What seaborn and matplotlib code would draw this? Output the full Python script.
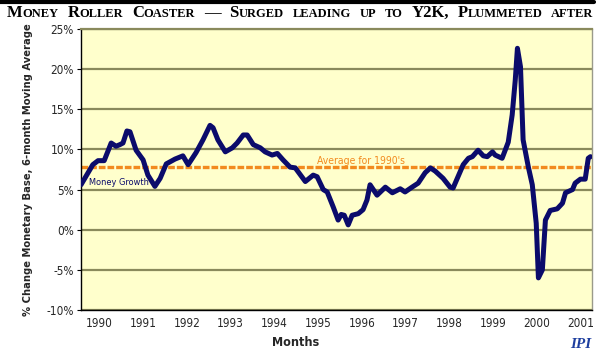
"""Money Roller Coaster: 6-month moving average of monetary base growth, 1990-2001."""
import numpy as np
import pandas as pd
import matplotlib
matplotlib.use("Agg")
import matplotlib.pyplot as plt
from matplotlib import font_manager
import seaborn as sns
from matplotlib.lines import Line2D

# decimal year of each point
dates = [1990.00, 1990.27, 1990.39, 1990.53, 1990.69, 1990.80, 1990.89, 1990.96,
         1991.05, 1991.12, 1991.26, 1991.42, 1991.53, 1991.69, 1991.81, 1991.95,
         1992.15, 1992.33, 1992.45, 1992.63, 1992.79, 1992.95, 1993.02, 1993.13,
         1993.30, 1993.46, 1993.57, 1993.71, 1993.80, 1993.94, 1994.10, 1994.21,
         1994.37, 1994.49, 1994.62, 1994.78, 1994.90, 1995.13, 1995.31, 1995.40,
         1995.54, 1995.63, 1995.77, 1995.88, 1995.95, 1996.02, 1996.11, 1996.20,
         1996.34, 1996.45, 1996.54, 1996.61, 1996.77, 1996.96, 1997.12, 1997.30,
         1997.41, 1997.57, 1997.71, 1997.87, 1997.99, 1998.10, 1998.28, 1998.44,
         1998.51, 1998.74, 1998.86, 1998.95, 1999.08, 1999.20, 1999.29, 1999.41,
         1999.47, 1999.63, 1999.77, 1999.86, 1999.93, 1999.98, 2000.05, 2000.11,
         2000.23, 2000.32, 2000.41, 2000.46, 2000.55, 2000.62, 2000.73, 2000.89,
         2001.01, 2001.08, 2001.24, 2001.30, 2001.42, 2001.53, 2001.60, 2001.65]
# % change monetary base, 6-month moving average
growth = [5.6, 8.1, 8.6, 8.6, 10.8, 10.4, 10.6, 10.8,
          12.3, 12.2, 9.9, 8.7, 6.8, 5.4, 6.4, 8.2,
          8.8, 9.2, 8.1, 9.6, 11.2, 13.0, 12.7, 11.2,
          9.7, 10.2, 10.8, 11.8, 11.8, 10.6, 10.2, 9.7,
          9.3, 9.5, 8.7, 7.8, 7.7, 6.0, 6.8, 6.6,
          5.0, 4.7, 2.8, 1.2, 1.9, 1.8, 0.6, 1.8,
          2.0, 2.5, 3.7, 5.6, 4.3, 5.3, 4.6, 5.1,
          4.7, 5.3, 5.8, 7.1, 7.7, 7.3, 6.4, 5.3,
          5.2, 8.1, 8.9, 9.1, 9.9, 9.2, 9.1, 9.7,
          9.3, 8.9, 10.9, 14.3, 18.6, 22.6, 20.3, 11.2,
          7.8, 5.6, 0.8, -6.0, -5.0, 1.2, 2.4, 2.6,
          3.3, 4.6, 5.0, 5.8, 6.3, 6.3, 8.9, 9.1]
average_1990s = 7.8
years = list(range(1990, 2002))
y_ticks = [-10, -5, 0, 5, 10, 15, 20, 25]

NAVY = "#0b0b6b"
ORANGE = "#f28a1e"
GRID = "#8a8a5c"
PANEL = "#ffffcc"
SERIF = ["Liberation Serif", "DejaVu Serif"]


def _narrow_font():
    # pick a condensed sans face if one is installed, else the narrowest plain one
    faces = font_manager.fontManager.ttflist
    names = {f.name for f in faces}
    if "Liberation Sans Narrow" in names:
        return ["Liberation Sans Narrow"], "normal"
    if any(f.name == "DejaVu Sans" and f.stretch == "condensed" for f in faces):
        return ["DejaVu Sans"], "condensed"
    return ["Liberation Sans", "DejaVu Sans"], "normal"


def _small_caps_title(fig, x, y, words, big, small, gap):
    # matplotlib has no small caps, so place big and small pieces one after another
    renderer = fig.canvas.get_renderer()
    width = fig.bbox.width
    for head, rest in words:
        for text, size in ((head, big), (rest, small)):
            if not text:
                continue
            t = fig.text(x, y, text, fontsize=size, family=SERIF, fontweight="bold",
                         va="baseline", ha="left", color="black")
            x = t.get_window_extent(renderer).x1 / width
        x += gap


def plot():
    sns.set_theme(style="white")
    family, stretch = _narrow_font()
    plt.rcParams["font.family"] = family
    plt.rcParams["font.stretch"] = stretch

    data = pd.DataFrame({"date": dates, "growth": growth})

    fig = plt.figure(figsize=(6.0, 3.57), dpi=100)
    ax = fig.add_axes([0.135, 0.1317, 0.852, 0.787])
    ax.set_facecolor(PANEL)

    for tick in y_ticks:
        ax.axhline(tick, color=GRID, lw=1.6, zorder=1)
    ax.axhline(average_1990s, color=ORANGE, lw=2.4, ls=(0, (2, 0.6)), zorder=2)

    sns.lineplot(data=data, x="date", y="growth", color=NAVY, lw=3.6,
                 sort=False, ax=ax, zorder=3)

    ax.set_xlim(1990.0, 2001.69)
    ax.set_ylim(-10, 25)
    ax.set_yticks(y_ticks)
    ax.set_yticklabels(["{}%".format(t) for t in y_ticks], fontsize=8.5)
    ax.set_xticks(years)
    ax.set_xticklabels([])
    ax.set_xticks(np.arange(1990, 2001.7, 1 / 12), minor=True)
    ax.tick_params(axis="x", which="major", length=4, width=1.2, color="black",
                   direction="inout")
    ax.tick_params(axis="x", which="minor", length=2, width=0.8, color="black",
                   direction="inout")
    ax.tick_params(axis="y", length=3, width=0.8, color="black", pad=2,
                   left=True, direction="out")
    for year in years:
        if year + 0.42 < 2001.69:
            ax.text(year + 0.42, -0.025, str(year), transform=ax.get_xaxis_transform(),
                    ha="center", va="top", fontsize=8.5)

    ax.spines["left"].set_color("black")
    ax.spines["bottom"].set_color("black")
    ax.spines["left"].set_linewidth(1.0)
    ax.spines["bottom"].set_linewidth(1.0)
    ax.spines["top"].set_color(GRID)
    ax.spines["top"].set_linewidth(1.6)
    ax.spines["right"].set_color("#9a9a8a")
    ax.spines["right"].set_linewidth(1.0)

    ax.set_xlabel("")
    ax.set_ylabel("% Change Monetary Base, 6-month Moving Average",
                  fontsize=8, fontweight="bold", labelpad=10)
    fig.text(0.492, 0.04, "Months", ha="center", va="center",
             fontsize=9, fontweight="bold")

    ax.text(1990.18, 5.9, "Money Growth", color=NAVY, fontsize=6.6, va="center",
            zorder=4)
    ax.text(1995.4, 8.6, "Average for 1990's", color=ORANGE, fontsize=7.5, va="center")

    # IPI mark in the lower right corner
    fig.text(0.968, 0.035, "IPI", ha="center", va="center", fontsize=11,
             fontweight="bold", style="italic", family=SERIF, color="#1f3f9f")

    fig.add_artist(Line2D([0.0, 0.99], [0.995, 0.995], color="black", lw=3,
                          transform=fig.transFigure))
    _small_caps_title(
        fig, 0.012, 0.952,
        [("M", "ONEY"), ("R", "OLLER"), ("C", "OASTER"), ("\u2014", ""),
         ("S", "URGED"), ("", "LEADING"), ("", "UP"), ("", "TO"), ("Y2K,", ""),
         ("P", "LUMMETED"), ("", "AFTER")],
        big=12, small=9, gap=0.0145)

    fig.savefig("out.png", dpi=100)


if __name__ == "__main__":
    plot()
